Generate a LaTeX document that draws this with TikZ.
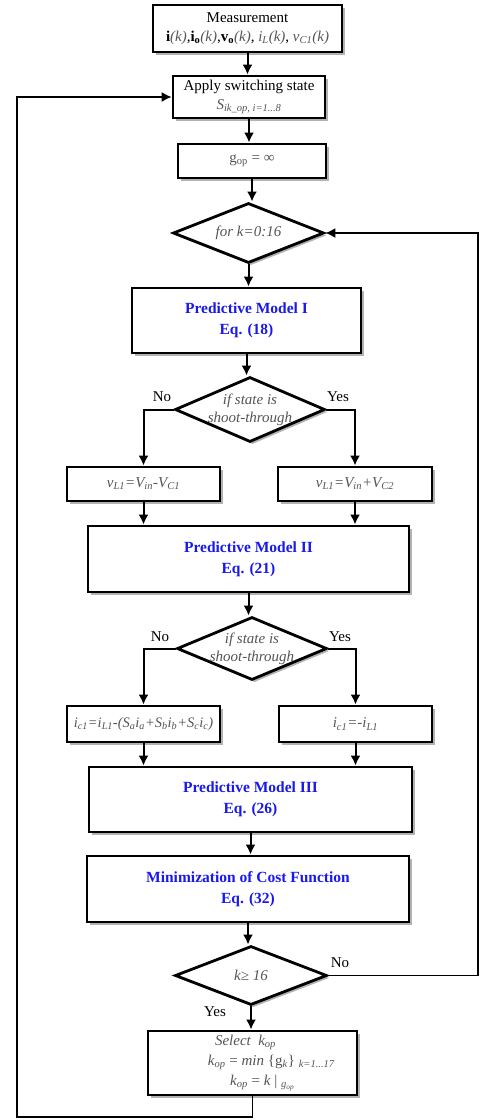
\documentclass[tikz,border=0pt]{standalone}
\usepackage{fontspec}
\setmainfont{Liberation Serif}
\usetikzlibrary{shapes.geometric,arrows.meta,shadows}
\definecolor{tgray}{RGB}{85,85,85}
\definecolor{mblue}{RGB}{25,25,235}
\begin{document}
\begin{tikzpicture}[x=1pt,y=-1pt,
  shad/.style={drop shadow={shadow xshift=2.5pt,shadow yshift=-2.5pt,opacity=0.3,fill=black}},
  box/.style={draw, rectangle, line width=2.8pt, fill=white, inner sep=1pt, align=center,
    font=\fontsize{15}{19}\selectfont, shad},
  bluebox/.style={box, text=mblue, font=\fontsize{15.5}{21}\selectfont\bfseries},
  dia/.style={draw, diamond, line width=2.8pt, fill=white, inner sep=0pt, aspect=2.4, shad},
  dlabel/.style={text=tgray, align=center, font=\fontsize{15}{18}\selectfont\itshape},
  yn/.style={font=\fontsize{15}{18}\selectfont},
  arr/.style={line width=2pt, -{Latex[length=10pt,width=10pt]}},
  loopl/.style={line width=1.5pt, -{Latex[length=10pt,width=10pt]}},
  ]
\useasboundingbox[fill=white] (0,0) rectangle (481,1120);

\node[box, minimum width=189pt, minimum height=47pt] (meas) at (247.5,28.5)
  {Measurement\\ \textbf{i}\textcolor{tgray}{\textit{(k)}},\textbf{i}\textsubscript{\textbf{o}}\textcolor{tgray}{\textit{(k)}},\textbf{v}\textsubscript{\textbf{o}}\textcolor{tgray}{\textit{(k)}}, \textcolor{tgray}{\textit{i}\textsubscript{\textit{L}}\textit{(k)}}, \textcolor{tgray}{\textit{v}\textsubscript{\textit{C1}}\textit{(k)}}};
\node[box, minimum width=152pt, minimum height=42pt] (apply) at (249,97)
  {Apply switching state\\ \textcolor{tgray}{\textit{S\textsubscript{ik\_op, i=1...8}}}};
\node[box, minimum width=148pt, minimum height=34pt, text=tgray] (gop) at (252,161)
  {g\textsubscript{op} = ∞};
\node[dia, minimum width=151pt, minimum height=60pt, label={[dlabel]center:for k=0:16}] (d1) at (248.5,233) {};
\node[bluebox, minimum width=229pt, minimum height=65pt] (pm1) at (246.5,320.5)
  {Predictive Model I\\Eq. (18)};
\node[dia, minimum width=150pt, minimum height=65pt, label={[dlabel]center:{if state is\\shoot-through}}] (d2) at (250,409.5) {};
\node[box, minimum width=153pt, minimum height=34pt, text=tgray, font=\fontsize{15}{18}\selectfont\itshape] (b1l) at (143.5,484)
  {v\textsubscript{L1}=V\textsubscript{in}-V\textsubscript{C1}};
\node[box, minimum width=154pt, minimum height=34pt, text=tgray, font=\fontsize{15}{18}\selectfont\itshape] (b1r) at (355,484)
  {v\textsubscript{L1}=V\textsubscript{in}+V\textsubscript{C2}};
\node[bluebox, minimum width=321pt, minimum height=66pt] (pm2) at (248.5,559)
  {Predictive Model II\\Eq. (21)};
\node[dia, minimum width=150pt, minimum height=63pt, label={[dlabel]center:{if state is\\shoot-through}}] (d3) at (252,648.5) {};
\node[box, minimum width=153pt, minimum height=36pt, text=tgray, font=\fontsize{14.5}{18}\selectfont\itshape] (b2l) at (143.5,724)
  {i\textsubscript{c1}=i\textsubscript{L1}-(S\textsubscript{a}i\textsubscript{a}+S\textsubscript{b}i\textsubscript{b}+S\textsubscript{c}i\textsubscript{c})};
\node[box, minimum width=153pt, minimum height=36pt, text=tgray, font=\fontsize{15}{18}\selectfont\itshape] (b2r) at (355.5,724)
  {i\textsubscript{c1}=-i\textsubscript{L1}};
\node[bluebox, minimum width=323pt, minimum height=65pt] (pm3) at (250.5,799.5)
  {Predictive Model III\\Eq. (26)};
\node[bluebox, minimum width=322pt, minimum height=66pt] (mini) at (248,889)
  {Minimization of Cost Function\\Eq. (32)};
\node[dia, minimum width=152pt, minimum height=59pt, label={[dlabel]center:{k≥ 16}}] (d4) at (251,975.5) {};
\node[box, minimum width=209pt, minimum height=64pt, text=tgray, font=\fontsize{15}{20}\selectfont] (sel) at (252.5,1063)
  {\hspace*{-14pt}\textit{Select\ \ k\textsubscript{op}}\\
   \hspace*{38pt}\textit{k\textsubscript{op}} = \textit{min} \{g\textsubscript{\textit{k}}\} \textsubscript{\textit{k=1...17}}\\
   \hspace*{20pt}\textit{k\textsubscript{op}} = \textit{k} | \textsubscript{\textit{g\textsubscript{op}}}};

\node[yn] (no1) at (162,397) {No};
\node[yn] (yes1) at (338,397) {Yes};
\node[yn] (no2) at (160,637) {No};
\node[yn] (yes2) at (340,637) {Yes};
\node[yn] (no3) at (340,963) {No};
\node[yn] (yes3) at (215,1012) {Yes};

\draw[arr] (meas.south) -- (meas.south |- apply.north);
\draw[arr] (apply.south) -- (apply.south |- gop.north);
\draw[arr] (gop.south) -- (gop.south |- d1.north);
\draw[arr] (d1.south) -- (d1.south |- pm1.north);
\draw[arr] (pm1.south) -- (pm1.south |- d2.north);
\draw[arr] (d2.west) -| (b1l.north);
\draw[arr] (d2.east) -| (b1r.north);
\draw[arr] (b1l.south) -- (b1l.south |- pm2.north);
\draw[arr] (b1r.south) -- (b1r.south |- pm2.north);
\draw[arr] (pm2.south) -- (pm2.south |- d3.north);
\draw[arr] (d3.west) -| (b2l.north);
\draw[arr] (d3.east) -| (b2r.north);
\draw[arr] (b2l.south) -- (b2l.south |- pm3.north);
\draw[arr] (b2r.south) -- (b2r.south |- pm3.north);
\draw[arr] (pm3.south) -- (pm3.south |- mini.north);
\draw[arr] (mini.south) -- (mini.south |- d4.north);
\draw[arr] (d4.south) -- (d4.south |- sel.north);

\coordinate (rr) at (478,600);
\coordinate (ll) at (17,1117);
\draw[loopl] (d4.east) -- (d4.east -| rr) -- (d1.east -| rr) -- (d1.east);
\draw[loopl] (sel.south) -- (sel.south |- ll) -- (ll) -- (ll |- apply.west) -- (apply.west);
\end{tikzpicture}
\end{document}
